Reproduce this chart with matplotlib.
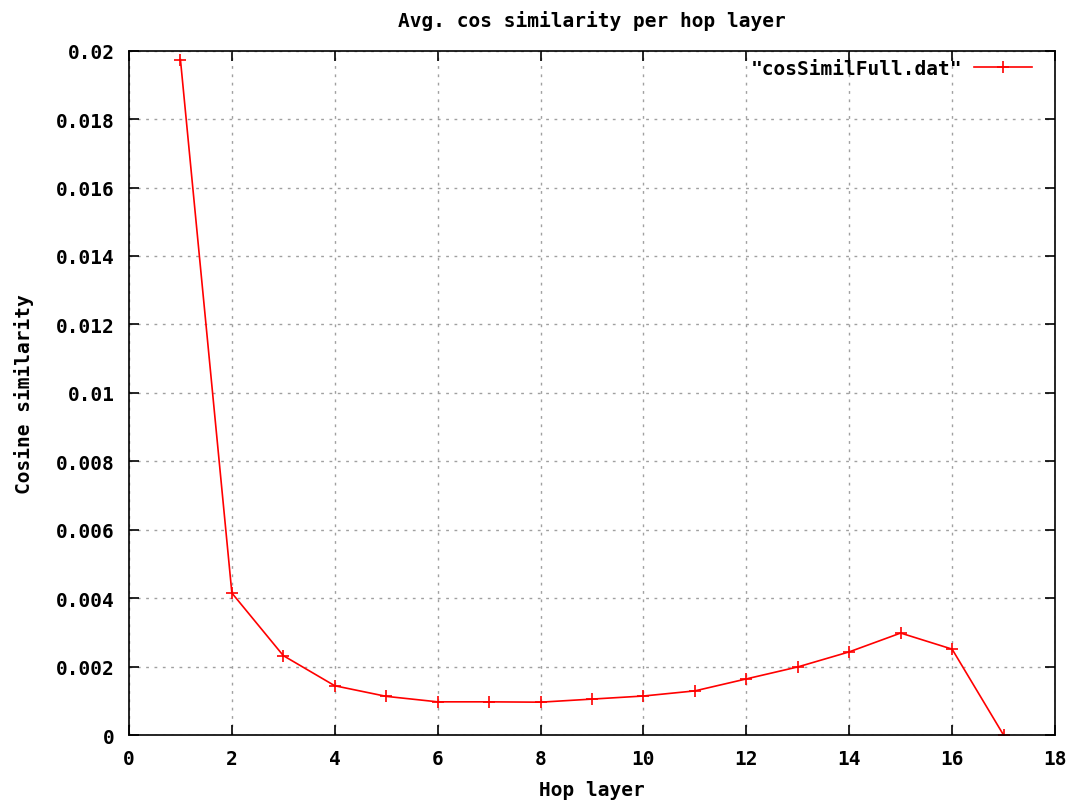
import matplotlib
matplotlib.use('Agg')
import matplotlib.pyplot as plt

hop = [1, 2, 3, 4, 5, 6, 7, 8, 9, 10, 11, 12, 13, 14, 15, 16, 17]
cos_simil = [0.01974, 0.00415, 0.00232, 0.00144, 0.00113, 0.00097, 0.00097, 0.00096,
             0.00105, 0.00114, 0.00129, 0.00164, 0.00199, 0.00243, 0.00298, 0.00251, 0.0]
xticks = [0, 2, 4, 6, 8, 10, 12, 14, 16, 18]
yticks = [0, 0.002, 0.004, 0.006, 0.008, 0.01, 0.012, 0.014, 0.016, 0.018, 0.02]
ytick_labels = ['0', '0.002', '0.004', '0.006', '0.008', '0.01', '0.012', '0.014', '0.016', '0.018', '0.02']

plt.rcParams['font.family'] = 'DejaVu Sans Mono'
plt.rcParams['font.weight'] = 'bold'

fig = plt.figure(figsize=(10.74, 8.03), dpi=100)
ax = fig.add_axes([0.1201, 0.0834, 0.8622, 0.8523])

ax.plot(hop, cos_simil, color='red', linewidth=1.2, marker='+', markersize=9,
        markeredgewidth=1.2, label='"cosSimilFull.dat"')

ax.set_xlim(0, 18)
ax.set_ylim(0, 0.02)
ax.set_xticks(xticks)
ax.set_yticks(yticks)
ax.set_yticklabels(ytick_labels)
ax.tick_params(direction='in', top=True, right=True, length=7, width=1.2,
               labelsize=14, pad=10)
for lab in ax.get_xticklabels() + ax.get_yticklabels():
    lab.set_fontweight('bold')
ax.grid(True, color='#a0a0a0', linestyle=(0, (2, 4)), linewidth=1)
for s in ax.spines.values():
    s.set_linewidth(1.2)

ax.set_title('Avg. cos similarity per hop layer', fontsize=14, fontweight='bold', pad=18)
ax.set_xlabel('Hop layer', fontsize=14, fontweight='bold', labelpad=9)
ax.set_ylabel('Cosine similarity', fontsize=14, fontweight='bold', labelpad=16)

ax.legend(loc='upper right', bbox_to_anchor=(0.9816, 0.997), frameon=False,
          markerfirst=False, handlelength=3.0, borderaxespad=0, borderpad=0.3,
          handletextpad=0.6, prop={'weight': 'bold', 'size': 14})

fig.savefig('out.png', dpi=100)
